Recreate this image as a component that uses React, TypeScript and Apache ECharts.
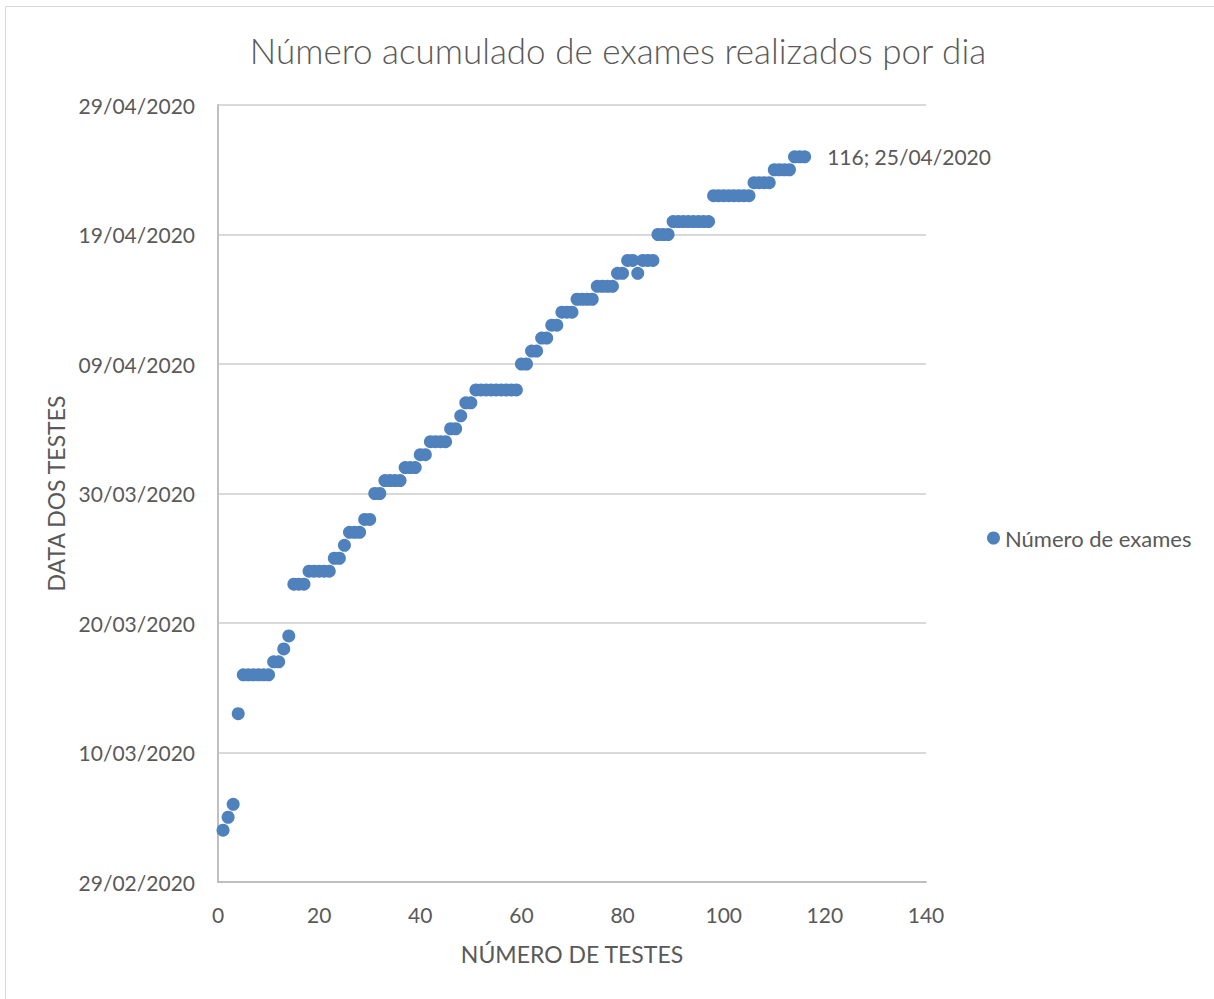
import React, { useEffect, useRef } from "react";
import * as echarts from "echarts";

const TITLE = "Número acumulado de exames realizados por dia";
const SERIES_NAME = "Número de exames";
const X_NAME = "NÚMERO DE TESTES";
const Y_NAME = "DATA DOS TESTES";
const BASE_DATE = "29/02/2020";
const Y_MIN_DAYS = 0;
const Y_MAX_DAYS = 60;
const Y_STEP_DAYS = 10;
const X_MIN = 0;
const X_MAX = 140;
const X_STEP = 20;

// date of each test, in order (test number = index + 1)
const testDates: string[] = [
  "04/03/2020", "05/03/2020", "06/03/2020", "13/03/2020",
  "16/03/2020", "16/03/2020", "16/03/2020", "16/03/2020", "16/03/2020", "16/03/2020",
  "17/03/2020", "17/03/2020", "18/03/2020", "19/03/2020",
  "23/03/2020", "23/03/2020", "23/03/2020",
  "24/03/2020", "24/03/2020", "24/03/2020", "24/03/2020", "24/03/2020",
  "25/03/2020", "25/03/2020", "26/03/2020",
  "27/03/2020", "27/03/2020", "27/03/2020",
  "28/03/2020", "28/03/2020",
  "30/03/2020", "30/03/2020",
  "31/03/2020", "31/03/2020", "31/03/2020", "31/03/2020",
  "01/04/2020", "01/04/2020", "01/04/2020",
  "02/04/2020", "02/04/2020",
  "03/04/2020", "03/04/2020", "03/04/2020", "03/04/2020",
  "04/04/2020", "04/04/2020", "05/04/2020",
  "06/04/2020", "06/04/2020",
  "07/04/2020", "07/04/2020", "07/04/2020", "07/04/2020", "07/04/2020",
  "07/04/2020", "07/04/2020", "07/04/2020", "07/04/2020",
  "09/04/2020", "09/04/2020",
  "10/04/2020", "10/04/2020",
  "11/04/2020", "11/04/2020",
  "12/04/2020", "12/04/2020",
  "13/04/2020", "13/04/2020", "13/04/2020",
  "14/04/2020", "14/04/2020", "14/04/2020", "14/04/2020",
  "15/04/2020", "15/04/2020", "15/04/2020", "15/04/2020",
  "16/04/2020", "16/04/2020",
  "17/04/2020", "17/04/2020", "16/04/2020",
  "17/04/2020", "17/04/2020", "17/04/2020",
  "19/04/2020", "19/04/2020", "19/04/2020",
  "20/04/2020", "20/04/2020", "20/04/2020", "20/04/2020",
  "20/04/2020", "20/04/2020", "20/04/2020", "20/04/2020",
  "22/04/2020", "22/04/2020", "22/04/2020", "22/04/2020",
  "22/04/2020", "22/04/2020", "22/04/2020", "22/04/2020",
  "23/04/2020", "23/04/2020", "23/04/2020", "23/04/2020",
  "24/04/2020", "24/04/2020", "24/04/2020", "24/04/2020",
  "25/04/2020", "25/04/2020", "25/04/2020",
];

const DAY_MS = 86400000;
function parseDate(s: string): number {
  const [d, m, y] = s.split("/").map(Number);
  return Date.UTC(y, m - 1, d);
}
const baseMs = parseDate(BASE_DATE);
function toDays(s: string): number {
  return Math.round((parseDate(s) - baseMs) / DAY_MS);
}
function fmtDays(v: number): string {
  const dt = new Date(baseMs + v * DAY_MS);
  const dd = String(dt.getUTCDate()).padStart(2, "0");
  const mm = String(dt.getUTCMonth() + 1).padStart(2, "0");
  return `${dd}/${mm}/${dt.getUTCFullYear()}`;
}

const FONT = "Lato";
const TEXT = "#595959";

export default function App() {
  const ref = useRef<HTMLDivElement>(null);
  useEffect(() => {
    document.body.style.margin = "0";
    const chart = echarts.init(ref.current!, null, { renderer: "svg" });
    const last = testDates.length - 1;
    const data = testDates.map((s, i) => {
      const item: any = { value: [i + 1, toDays(s)] };
      if (i === last) {
        item.label = {
          show: true,
          position: "right",
          distance: 16,
          formatter: () => `${i + 1}; ${s}`,
          color: TEXT,
          fontFamily: FONT,
          fontSize: 21,
        };
      }
      return item;
    });
    chart.setOption({
      animation: false,
      backgroundColor: "#ffffff",
      textStyle: { fontFamily: FONT, color: TEXT },
      title: {
        text: TITLE,
        left: 613,
        top: 27,
        textAlign: "center",
        textStyle: { fontFamily: FONT, fontSize: 35, fontWeight: 300, color: TEXT },
      },
      legend: {
        data: [SERIES_NAME],
        left: 982,
        top: 522,
        orient: "vertical",
        icon: "circle",
        itemWidth: 13,
        itemHeight: 13,
        itemGap: 6,
        textStyle: { fontFamily: FONT, fontSize: 22, color: TEXT, padding: [0, 0, 0, 0] },
      },
      graphic: [
        {
          type: "rect",
          shape: { x: 5.5, y: 6.5, width: 1240, height: 1040 },
          style: { fill: "none", stroke: "#d9d9d9", lineWidth: 1 },
          silent: true,
        },
      ],
      grid: { left: 218, top: 105, width: 708, height: 777, containLabel: false },
      xAxis: {
        type: "value",
        min: X_MIN,
        max: X_MAX,
        interval: X_STEP,
        name: X_NAME,
        nameLocation: "middle",
        nameGap: 60,
        nameTextStyle: { fontFamily: FONT, fontSize: 23, color: TEXT },
        axisLine: { show: true, lineStyle: { color: "#bfbfbf", width: 2 } },
        axisTick: { show: false },
        splitLine: { show: false },
        axisLabel: { fontFamily: FONT, fontSize: 21, color: TEXT, margin: 22 },
      },
      yAxis: {
        type: "value",
        min: Y_MIN_DAYS,
        max: Y_MAX_DAYS,
        interval: Y_STEP_DAYS,
        name: Y_NAME,
        nameLocation: "middle",
        nameGap: 148,
        nameRotate: 90,
        nameTextStyle: { fontFamily: FONT, fontSize: 23, color: TEXT },
        axisLine: { show: true, lineStyle: { color: "#bfbfbf", width: 2 } },
        axisTick: { show: false },
        splitLine: { show: true, lineStyle: { color: "#d9d9d9", width: 2 } },
        axisLabel: { fontFamily: FONT, fontSize: 21, color: TEXT, margin: 23, formatter: (v: number) => fmtDays(v) },
      },
      series: [
        {
          name: SERIES_NAME,
          type: "scatter",
          symbol: "circle",
          symbolSize: 13,
          itemStyle: { color: "#4f81bd", opacity: 1 },
          data,
        },
      ],
    });
    return () => chart.dispose();
  }, []);
  return <div ref={ref} style={{ width: 1214, height: 999 }} />;
}
